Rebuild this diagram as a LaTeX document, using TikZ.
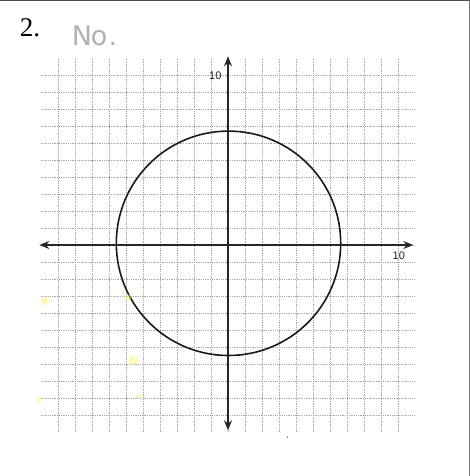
\documentclass[tikz,border=0pt]{standalone}
\usepackage{fontspec}
\setmainfont{Liberation Serif}
\newfontfamily\handfont{DejaVu Sans}
\newfontfamily\tickfont{Liberation Sans}
\usetikzlibrary{arrows.meta}
\tikzset{
  gridline/.style={gray!70, line width=0.6pt, dash pattern=on 0.7pt off 1.1pt},
  axisline/.style={black!85, line width=1.3pt, -{Stealth[length=10pt,width=8pt]}},
  curve/.style={black!90, line width=1.6pt},
  ticklabel/.style={font=\tickfont\fontsize{11}{13}\selectfont, inner sep=0pt, text=black!85},
  smudge/.style={fill=yellow!60, draw=none, opacity=0.45}
}
\begin{document}
\begin{tikzpicture}[x=17pt,y=17pt]
\useasboundingbox (-13.412,-13.588) rectangle (14.235,14.412);
\fill[white] (-13.412,-13.588) rectangle (14.235,14.412);
% page border
\draw[black!70, line width=1.5pt] (-13.412,14.37) -- (14.235,14.37);
\draw[black!55, line width=1pt] (14.2,14.412) -- (14.2,-13.588);
% grid
\foreach \i in {-10,...,10} {
  \draw[gridline] (\i,-11) -- (\i,11);
  \draw[gridline] (-11,\i) -- (11,\i);
}
% axes
\coordinate (o) at (0,0);
\coordinate (xleft) at (-11.1,0);
\coordinate (xright) at (10.9,0);
\coordinate (ytop) at (0,11.1);
\coordinate (ybot) at (0,-10.9);
\draw[axisline] (o) -- (xright);
\draw[axisline] (o) -- (xleft);
\draw[axisline] (o) -- (ytop);
\draw[axisline] (o) -- (ybot);
% circle
\draw[curve] (0.03,0.1) circle (6.6);
% labels
\node[ticklabel] (ty) at (-0.75,9.95) {10};
\node[ticklabel] (tx) at (10.05,-0.62) {10};
\node[font=\fontsize{27}{30}\selectfont, inner sep=0pt] (num) at (-11.65,12.75) {2.};
\node[font=\handfont\fontsize{27}{30}\selectfont, text=gray!60, inner sep=0pt, anchor=base west] (ans) at (-9.2,11.75) {N\kern-1pt o\kern1pt.};
% smudges
\fill[smudge] (-10.75,-3.3) circle (0.25);
\fill[smudge] (-5.9,-3.1) circle (0.2);
\fill[smudge] (-5.6,-6.8) circle (0.28);
\fill[smudge] (-11.1,-9.1) circle (0.18);
\fill[smudge] (-5.2,-8.9) circle (0.15);
\fill[black!60] (3.5,-11.3) circle (0.05);
\end{tikzpicture}
\end{document}
